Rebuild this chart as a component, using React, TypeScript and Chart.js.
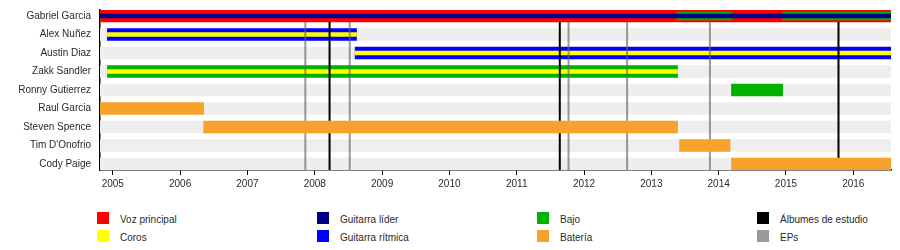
import React, { useEffect, useRef } from "react";
import { Chart, registerables } from "chart.js";

Chart.register(...registerables);

type Span = [string, number, number];

const members = [
  "Gabriel Garcia",
  "Alex Nuñez",
  "Austin Diaz",
  "Zakk Sandler",
  "Ronny Gutierrez",
  "Raul Garcia",
  "Steven Spence",
  "Tim D'Onofrio",
  "Cody Paige",
];

const timelineStart = 2004.81;
const timelineEnd = 2016.56;
const yearTicks = [2005, 2006, 2007, 2008, 2009, 2010, 2011, 2012, 2013, 2014, 2015, 2016];

const vozPrincipal: Span[] = [["Gabriel Garcia", 2004.81, 2016.56]];
const guitarraLider: Span[] = [["Gabriel Garcia", 2004.81, 2016.56]];
const guitarraRitmica: Span[] = [
  ["Alex Nuñez", 2004.92, 2008.62],
  ["Austin Diaz", 2008.6, 2016.56],
];
const coros: Span[] = [
  ["Alex Nuñez", 2004.92, 2008.62],
  ["Austin Diaz", 2008.6, 2016.56],
  ["Zakk Sandler", 2004.92, 2013.39],
];
const bajo: Span[] = [
  ["Zakk Sandler", 2004.92, 2013.39],
  ["Ronny Gutierrez", 2014.19, 2014.95],
];
const bajoSecundario: Span[] = [
  ["Gabriel Garcia", 2013.38, 2014.2],
  ["Gabriel Garcia", 2014.95, 2016.56],
];
const bateria: Span[] = [
  ["Raul Garcia", 2004.81, 2006.35],
  ["Steven Spence", 2006.35, 2013.39],
  ["Tim D'Onofrio", 2013.42, 2014.17],
  ["Cody Paige", 2014.19, 2016.56],
];

const albumesDeEstudio = [2008.22, 2011.64, 2015.78];
const eps = [2007.86, 2008.52, 2011.77, 2012.64, 2013.87];

const legendLabels = [
  "Voz principal",
  "Coros",
  "Guitarra líder",
  "Guitarra rítmica",
  "Bajo",
  "Batería",
  "Álbumes de estudio",
  "EPs",
];
const legendColors = [
  "#ff0000",
  "#ffff00",
  "#00008b",
  "#0000ff",
  "#00b200",
  "#f8a22c",
  "#000000",
  "#999999",
];

const FONT = "'Liberation Sans', Arial, sans-serif";
const TEXT = "#2a2a2a";
const BAR_HALF = 0.324; // half of the bar thickness, in row units

export default function App() {
  const canvasRef = useRef<HTMLCanvasElement | null>(null);

  useEffect(() => {
    const canvas = canvasRef.current;
    if (!canvas) return;

    const barSet = (label: string, spans: Span[], color: string, thickness: number, order: number) => ({
      type: "bar" as const,
      label,
      indexAxis: "y" as const,
      grouped: false,
      barThickness: thickness,
      order,
      backgroundColor: color,
      borderWidth: 0,
      data: spans.map(([m, a, b]) => ({ x: [a, b], y: members.indexOf(m) })),
    });

    const lineSet = (x: number, color: string, order: number) => ({
      type: "line" as const,
      label: "line",
      data: [
        { x, y: BAR_HALF },
        { x, y: members.length - 1 + BAR_HALF },
      ],
      borderColor: color,
      borderWidth: 2,
      pointRadius: 0,
      fill: false,
      order,
    });

    const background: Span[] = members.map((m) => [m, timelineStart, timelineEnd]);

    const datasets: any[] = [
      barSet("fondo", background, "#eeeeee", 12, 100),
      barSet("Voz principal", vozPrincipal, legendColors[0], 12, 60),
      barSet("Bajo (G)", bajoSecundario, legendColors[4], 8, 56),
      barSet("Guitarra líder", guitarraLider, legendColors[2], 4, 55),
      barSet("Guitarra rítmica", guitarraRitmica, legendColors[3], 12, 54),
      barSet("Bajo", bajo, legendColors[4], 12, 53),
      barSet("Coros", coros, legendColors[1], 4, 50),
      ...eps.map((x) => lineSet(x, "rgba(100,100,100,0.65)", 20)),
      ...albumesDeEstudio.map((x) => lineSet(x, "#000000", 19)),
      barSet("Batería", bateria, legendColors[5], 12, 10),
    ];

    const chart = new Chart(canvas, {
      type: "bar",
      data: { datasets },
      options: {
        animation: false,
        responsive: false,
        events: [],
        indexAxis: "y",
        layout: { padding: { top: 10, right: 9, left: 0, bottom: 0 } },
        plugins: { legend: { display: false }, tooltip: { enabled: false } },
        scales: {
          x: {
            type: "linear",
            offset: false,
            min: timelineStart,
            max: timelineEnd,
            bounds: "data",
            afterBuildTicks: (s: any) => {
              s.ticks = yearTicks.map((v) => ({ value: v }));
            },
            afterFit: (s: any) => {
              s.height = 30;
              s.paddingLeft = 0;
              s.paddingRight = 0;
            },
            ticks: {
              callback: (v: any) => String(v),
              font: { family: FONT, size: 10 },
              color: TEXT,
              padding: 3,
              autoSkip: false,
              maxRotation: 0,
            },
            grid: { offset: false, drawOnChartArea: false, drawTicks: true, tickLength: 5, color: "#000", lineWidth: 1 },
            border: { display: true, color: "#000", width: 1.5 },
          },
          y: {
            type: "linear",
            offset: false,
            reverse: true,
            min: -BAR_HALF,
            max: members.length - 1 + BAR_HALF,
            bounds: "data",
            afterBuildTicks: (s: any) => {
              s.ticks = members.map((_, i) => ({ value: i }));
            },
            afterFit: (s: any) => {
              s.width = 100;
              s.paddingTop = 0;
              s.paddingBottom = 0;
            },
            ticks: {
              callback: (v: any) => members[v as number],
              font: { family: FONT, size: 10 },
              color: TEXT,
              padding: 9,
              autoSkip: false,
            },
            grid: { offset: false, drawOnChartArea: false, drawTicks: false },
            border: { display: true, color: "#000", width: 1.5 },
          },
        },
      } as any,
    });

    return () => chart.destroy();
  }, []);

  const colX = [97, 317, 537, 757];
  const rowY = [212, 229.5];

  return (
    <div style={{ position: "absolute", left: 0, top: 0, width: 900, height: 250, background: "#fff", overflow: "hidden" }}>
      <canvas ref={canvasRef} width={900} height={200} style={{ position: "absolute", left: 0, top: 0, width: 900, height: 200 }} />
      {legendLabels.map((label, i) => {
        const col = Math.floor(i / 2);
        const row = i % 2;
        return (
          <React.Fragment key={label}>
            <div
              style={{
                position: "absolute",
                left: colX[col],
                top: rowY[row],
                width: 12,
                height: 12,
                background: legendColors[i],
              }}
            />
            <div
              style={{
                position: "absolute",
                left: colX[col] + 23,
                top: rowY[row] + 2,
                height: 12,
                lineHeight: "12px",
                fontFamily: FONT,
                fontSize: 10,
                color: TEXT,
                whiteSpace: "nowrap",
              }}
            >
              {label}
            </div>
          </React.Fragment>
        );
      })}
    </div>
  );
}
